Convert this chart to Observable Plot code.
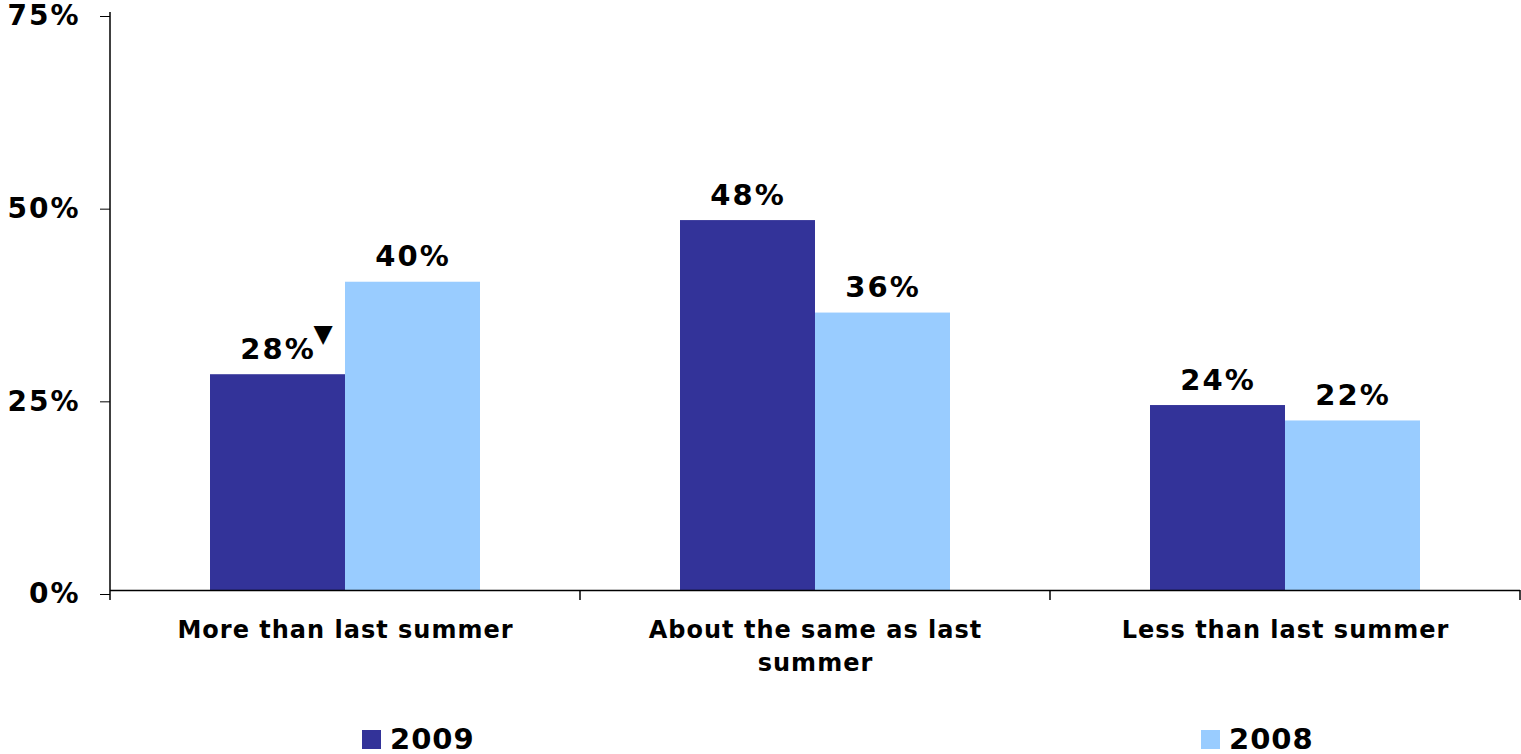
<!DOCTYPE html>
<html>
<head>
<meta charset="utf-8">
<script src="https://cdn.jsdelivr.net/npm/d3@7"></script>
<script src="https://cdn.jsdelivr.net/npm/@observablehq/plot@0.6"></script>
<style>
  body { margin: 0; background: #fff; font-family: "DejaVu Sans", Verdana, sans-serif; }
  #chart svg { display: block; }
  .legend { position: relative; width: 1521px; height: 54px; }
  .legend .item { position: absolute; top: 22px; display: flex; align-items: center;
                  font-weight: bold; font-size: 29px; color: #000; letter-spacing: 1px; }
  .legend .swatch { width: 19px; height: 19px; margin-right: 9px; }
</style>
</head>
<body>
<div id="chart"></div>
<div class="legend" id="legend"></div>
<script>
// Survey categories and the share of answers per year
const categories = ["More than last summer", "About the same as last summer", "Less than last summer"];
const categoryLabels = ["More than last summer", "About the same as last\nsummer", "Less than last summer"];
const years = ["2009", "2008"];
const values2009 = [28, 48, 24];
const values2008 = [40, 36, 22];
const yTicks = [0, 25, 50, 75];
const colors = ["#333399", "#99CCFF"];
// significant change marker (drawn as a down triangle beside the value label)
const flagged = [{category: categories[0], year: "2009", value: values2009[0]}];

const rows = [];
categories.forEach((c, i) => {
  rows.push({category: c, year: "2009", value: values2009[i]});
  rows.push({category: c, year: "2008", value: values2008[i]});
});

const font = "DejaVu Sans, Verdana, sans-serif";

const chart = Plot.plot({
  width: 1521,
  height: 700,
  marginLeft: 110,
  marginRight: 1,
  marginTop: 12,
  marginBottom: 110,
  style: {fontFamily: font, fontWeight: "bold", color: "#000", background: "#fff", letterSpacing: "2px", overflow: "visible"},
  fx: {domain: categories, padding: 0, label: null},
  x: {domain: years, paddingInner: 0, paddingOuter: 0.74, axis: null},
  y: {domain: [0, 75], label: null},
  color: {domain: years, range: colors},
  marks: [
    Plot.barY(rows, {fx: "category", x: "year", y: "value", fill: "year"}),
    Plot.ruleY([0], {stroke: "#000", strokeWidth: 1.5}),
    Plot.text(rows, {
      fx: "category", x: "year", y: "value",
      text: d => `${d.value}%`,
      lineAnchor: "bottom", dy: -16,
      fontSize: 29, fontWeight: "bold", fill: "#000"
    }),
    Plot.text(flagged, {
      fx: "category", x: "year", y: "value",
      text: () => "\u25BC",
      dx: 46, dy: -41, fontSize: 25, fill: "#000"
    }),
    Plot.axisY({
      ticks: yTicks, tickFormat: d => `${d}%`,
      tickSize: 10, tickPadding: 20, fontSize: 28, dy: 4,
      label: null
    }),
    Plot.axisFx({
      anchor: "bottom",
      tickSize: 0, tickPadding: 24,
      tickFormat: (d, i) => categoryLabels[categories.indexOf(d)],
      fontSize: 24, lineHeight: 1.38, label: null
    })
  ]
});

document.getElementById("chart").appendChild(chart);

const svg = d3.select(chart);
// tracking for the category labels
svg.selectAll('[aria-label="fx-axis tick label"] text').style("letter-spacing", "1px");

// Axis line on the left and category boundary ticks below the baseline
const y = chart.scale("y");
const fx = chart.scale("fx");
const left = fx.apply(categories[0]);
svg.append("line")
  .attr("x1", left).attr("x2", left)
  .attr("y1", y.apply(75)).attr("y2", y.apply(0))
  .attr("stroke", "#000").attr("stroke-width", 1.5);
const bounds = categories.map(c => fx.apply(c)).concat([fx.apply(categories[categories.length - 1]) + fx.bandwidth]);
svg.append("g").selectAll("line").data(bounds).join("line")
  .attr("x1", d => d).attr("x2", d => d)
  .attr("y1", y.apply(0)).attr("y2", y.apply(0) + 10)
  .attr("stroke", "#000").attr("stroke-width", 1.5);

// Legend below the chart
const legend = d3.select("#legend");
const legendLeft = [362, 1201];
years.forEach((yr, i) => {
  const item = legend.append("div").attr("class", "item").style("left", legendLeft[i] + "px");
  item.append("div").attr("class", "swatch").style("background", colors[i]);
  item.append("span").text(yr);
});
</script>
</body>
</html>
